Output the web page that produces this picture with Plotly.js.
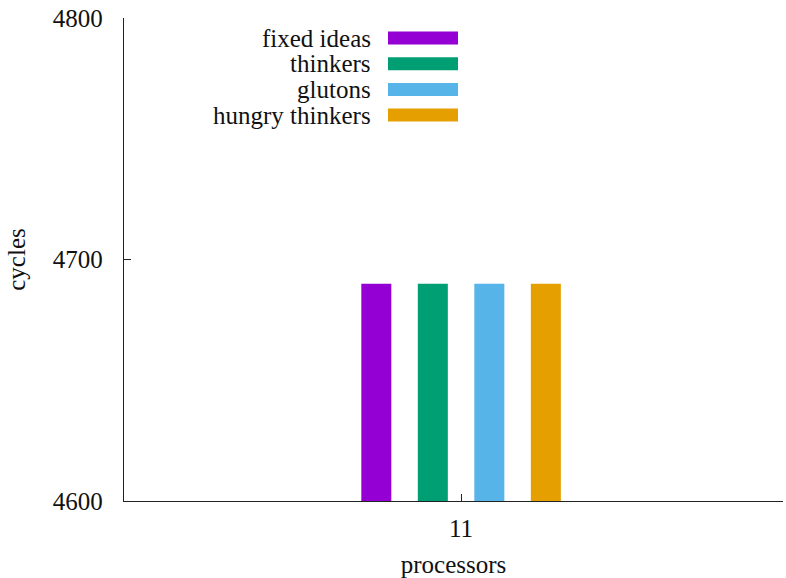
<!DOCTYPE html>
<html>
<head>
<meta charset="utf-8">
<script src="https://cdn.plot.ly/plotly-3.0.1.min.js"></script>
<style>html,body{margin:0;padding:0;background:#fff;}#chart{width:786px;height:578px;}</style>
</head>
<body>
<div id="chart"></div>
<script>
// ---- data ----
const processors = [11];
const seriesNames = ['fixed ideas', 'thinkers', 'glutons', 'hungry thinkers'];
const fixedIdeas = [4690];
const thinkers = [4690];
const glutons = [4690];
const hungryThinkers = [4690];
const seriesColors = ['#9400D3', '#009E73', '#56B4E9', '#E69F00'];
const yTicks = [4600, 4700, 4800];

const seriesValues = [fixedIdeas, thinkers, glutons, hungryThinkers];
const FONT = 'Liberation Serif';

const traces = seriesValues.map((vals, i) => ({
  type: 'bar',
  x: processors,
  y: vals,
  name: seriesNames[i],
  marker: {color: seriesColors[i], line: {width: 0}},
  showlegend: false,
  hoverinfo: 'skip'
}));

// layout geometry (pixels)
const W = 786, H = 578;
const mL = 124, mR = 3, mT = 18, mB = 77;
const pw = W - mL - mR, ph = H - mT - mB;
const px2x = p => (p - mL) / pw;
const py2y = p => 1 - (p - mT) / ph;

const annotations = [];
const shapes = [];
seriesNames.forEach((n, i) => {
  const cy = 38 + i * 25.7;
  annotations.push({
    xref: 'paper', yref: 'paper', x: px2x(373), y: py2y(cy),
    xanchor: 'right', yanchor: 'middle', showarrow: false,
    text: n, font: {family: FONT, size: 25, color: '#111'}
  });
  shapes.push({
    type: 'rect', xref: 'paper', yref: 'paper',
    x0: px2x(388), x1: px2x(458), y0: py2y(cy + 6.5), y1: py2y(cy - 6.5),
    fillcolor: seriesColors[i], line: {width: 0}
  });
});

const layout = {
  width: W, height: H,
  margin: {l: mL, r: mR, t: mT, b: mB, pad: 0},
  paper_bgcolor: '#fff', plot_bgcolor: '#fff',
  barmode: 'group', bargap: 0.314, bargroupgap: 0.469,
  font: {family: FONT, size: 25, color: '#111'},
  showlegend: false,
  xaxis: {
    range: [9.977, 11.977], tickvals: processors, ticktext: processors.map(String),
    ticks: 'inside', ticklen: 7, tickwidth: 1, tickcolor: '#222',
    showline: true, linecolor: '#222', linewidth: 1.3, mirror: false,
    showgrid: false, zeroline: false, automargin: false,
    tickfont: {family: FONT, size: 25, color: '#111'},
    ticklabelstandoff: 5,
    title: {text: 'processors', font: {family: FONT, size: 25, color: '#111'}, standoff: 16}
  },
  yaxis: {
    range: [4600, 4800], tickvals: yTicks, ticktext: yTicks.map(String),
    ticks: 'inside', ticklen: 7, tickwidth: 1, tickcolor: '#222',
    showline: true, linecolor: '#222', linewidth: 1.3, mirror: false,
    showgrid: false, zeroline: false, automargin: false,
    tickfont: {family: FONT, size: 25, color: '#111'},
    ticklabelstandoff: 15,
    title: {text: 'cycles', font: {family: FONT, size: 25, color: '#111'}, standoff: 20}
  },
  annotations: annotations,
  shapes: shapes
};

Plotly.newPlot('chart', traces, layout, {staticPlot: true, displayModeBar: false});
</script>
</body>
</html>
